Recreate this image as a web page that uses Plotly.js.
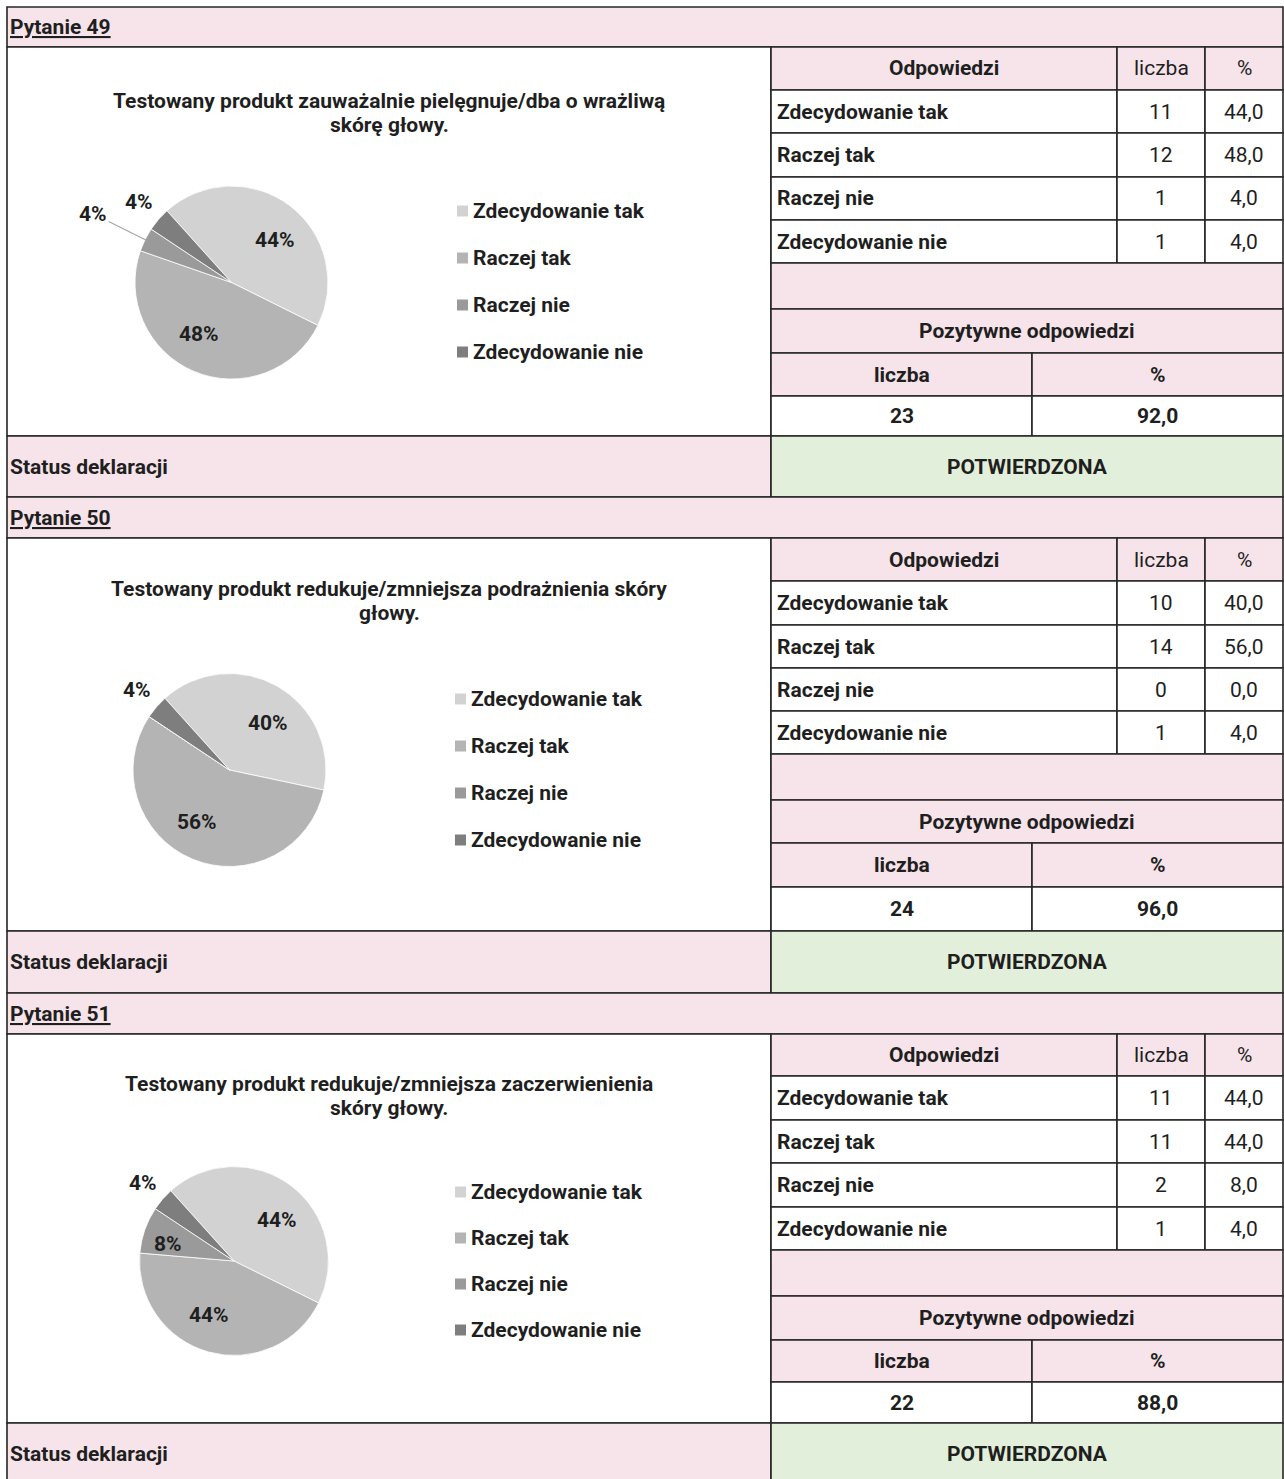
<!DOCTYPE html>
<html><head><meta charset="utf-8">
<script src="https://cdn.plot.ly/plotly-3.0.1.min.js"></script>
<style>html,body{margin:0;padding:0;background:#fff}#chart{width:1284px;height:1479px}</style>
</head><body><div id="chart"></div>
<script>
// ---------- DATA ----------
const categories = ['Zdecydowanie tak', 'Raczej tak', 'Raczej nie', 'Zdecydowanie nie'];
const questionNumbers = [49, 50, 51];
const questionTitles = [
  'Testowany produkt zauważalnie pielęgnuje/dba o wrażliwą<br>skórę głowy.',
  'Testowany produkt redukuje/zmniejsza podrażnienia skóry<br>głowy.',
  'Testowany produkt redukuje/zmniejsza zaczerwienienia<br>skóry głowy.'
];
const counts49 = [11, 12, 1, 1];
const counts50 = [10, 14, 0, 1];
const counts51 = [11, 11, 2, 1];
const statuses = ['POTWIERDZONA', 'POTWIERDZONA', 'POTWIERDZONA'];
const tableHeaders = ['Odpowiedzi', 'liczba', '%'];
const positiveHeader = 'Pozytywne odpowiedzi';
const positiveSubHeaders = ['liczba', '%'];
const statusLabel = 'Status deklaracji';
const questionPrefix = 'Pytanie';

// ---------- STYLE / LAYOUT ----------
const W = 1284, H = 1479;
const sliceColors = ['#D2D2D2', '#B4B4B4', '#9A9A9A', '#7E7E7E'];
const PINK = '#F6E4EA', GREEN = '#E2EFDA', LINE = '#262626', TXT = '#1F1F1F';
const FONT = 'Roboto, "Noto Sans", sans-serif';
const FS = 21;
const X = {left: 7, mid: 771, c1: 1117, c2: 1205, split: 1032, right: 1283};
const sectionLayout = [
  {rows: [7, 47, 90, 133, 177, 220, 263, 309, 353, 396, 436, 497], cx: 231.5, cy: 282.5, r: 96.5, titleY: 113, legTop: 211, legGap: 47, legX: 457},
  {rows: [497, 538, 581, 625, 668, 711, 754, 800, 843, 887, 931, 993], cx: 229.5, cy: 770, r: 96.5, titleY: 601, legTop: 699, legGap: 47, legX: 455},
  {rows: [993, 1034, 1076, 1120, 1163, 1207, 1250, 1296, 1340, 1382, 1423, 1485], cx: 234, cy: 1261, r: 94.5, titleY: 1096, legTop: 1192, legGap: 46, legX: 455}
];
const ROTATION = -42;
const TITLE_LINE_GAP = 24;
const allCounts = [counts49, counts50, counts51];

const px = x => x / W;
const py = y => 1 - y / H;
const fmt = v => v.toFixed(1).replace('.', ',');

const shapes = [], annotations = [], traces = [];

function rect(x0, x1, y0, y1, fill) {
  shapes.push({type: 'rect', xref: 'paper', yref: 'paper', layer: 'below',
    x0: px(x0), x1: px(x1), y0: py(y1), y1: py(y0),
    fillcolor: fill, line: {color: LINE, width: 1.6}});
}
function text(t, x, y, opts) {
  opts = opts || {};
  annotations.push({xref: 'paper', yref: 'paper', x: px(x), y: py(y), text: t, showarrow: false,
    xanchor: opts.anchor || 'center', yanchor: 'middle', align: opts.align || 'center', borderpad: 0,
    font: {family: FONT, size: opts.size || FS, color: TXT, weight: opts.bold === false ? 400 : 700}});
}

sectionLayout.forEach((L, s) => {
  const R = L.rows;
  const counts = allCounts[s];
  const total = counts.reduce((a, b) => a + b, 0);

  // header row
  rect(X.left, X.right, R[0], R[1], PINK);
  text('<u>' + questionPrefix + ' ' + questionNumbers[s] + '</u>', X.left + 2, (R[0] + R[1]) / 2, {anchor: 'left'});
  // left body
  rect(X.left, X.mid, R[1], R[10], '#FFFFFF');
  // table header
  rect(X.mid, X.c1, R[1], R[2], PINK);
  rect(X.c1, X.c2, R[1], R[2], PINK);
  rect(X.c2, X.right, R[1], R[2], PINK);
  const hy = (R[1] + R[2]) / 2;
  text(tableHeaders[0], (X.mid + X.c1) / 2, hy);
  text(tableHeaders[1], (X.c1 + X.c2) / 2, hy, {bold: false});
  text(tableHeaders[2], (X.c2 + X.right) / 2, hy, {bold: false});
  // data rows
  categories.forEach((c, i) => {
    const y0 = R[2 + i], y1 = R[3 + i], yc = (y0 + y1) / 2;
    rect(X.mid, X.c1, y0, y1, '#FFFFFF');
    rect(X.c1, X.c2, y0, y1, '#FFFFFF');
    rect(X.c2, X.right, y0, y1, '#FFFFFF');
    text(c, X.mid + 5, yc, {anchor: 'left'});
    text(String(counts[i]), (X.c1 + X.c2) / 2, yc, {bold: false});
    text(fmt(counts[i] / total * 100), (X.c2 + X.right) / 2, yc, {bold: false});
  });
  // empty row + positive block
  rect(X.mid, X.right, R[6], R[7], PINK);
  rect(X.mid, X.right, R[7], R[8], PINK);
  text(positiveHeader, (X.mid + X.right) / 2, (R[7] + R[8]) / 2);
  rect(X.mid, X.split, R[8], R[9], PINK);
  rect(X.split, X.right, R[8], R[9], PINK);
  text(positiveSubHeaders[0], (X.mid + X.split) / 2, (R[8] + R[9]) / 2);
  text(positiveSubHeaders[1], (X.split + X.right) / 2, (R[8] + R[9]) / 2);
  rect(X.mid, X.split, R[9], R[10], '#FFFFFF');
  rect(X.split, X.right, R[9], R[10], '#FFFFFF');
  const positive = counts[0] + counts[1];
  text(String(positive), (X.mid + X.split) / 2, (R[9] + R[10]) / 2);
  text(fmt(positive / total * 100), (X.split + X.right) / 2, (R[9] + R[10]) / 2);
  // status row
  rect(X.left, X.mid, R[10], R[11], PINK);
  rect(X.mid, X.right, R[10], R[11], GREEN);
  text(statusLabel, X.left + 2, (R[10] + R[11]) / 2, {anchor: 'left'});
  text(statuses[s], (X.mid + X.right) / 2, (R[10] + R[11]) / 2);

  // chart title (each line placed separately for tighter line spacing)
  const lines = questionTitles[s].split('<br>');
  lines.forEach((ln, k) => {
    text(ln, 389, L.titleY + (k - (lines.length - 1) / 2) * TITLE_LINE_GAP);
  });

  // legend
  categories.forEach((c, i) => {
    const yc = L.legTop + i * L.legGap;
    shapes.push({type: 'rect', xref: 'paper', yref: 'paper', layer: 'above',
      x0: px(L.legX), x1: px(L.legX + 11), y0: py(yc + 5.5), y1: py(yc - 5.5),
      fillcolor: sliceColors[i], line: {width: 0}});
    text(c, L.legX + 15, yc, {anchor: 'left'});
  });

  // pie
  traces.push({type: 'pie', values: counts, labels: categories, sort: false, direction: 'clockwise',
    rotation: ROTATION, marker: {colors: sliceColors, line: {color: '#FFFFFF', width: 0.8}},
    textinfo: 'none', hoverinfo: 'none', showlegend: false,
    domain: {x: [px(L.cx - L.r), px(L.cx + L.r)], y: [py(L.cy + L.r), py(L.cy - L.r)]}});

  // pie labels computed from data
  let cum = 0;
  const info = counts.map(v => { const mid = ROTATION + 360 * (cum + v / 2) / total; cum += v; return {v, mid}; });
  const placed = [];
  for (let i = counts.length - 1; i >= 0; i--) {
    const {v, mid} = info[i];
    if (v === 0) continue;
    const share = v / total;
    const label = Math.round(share * 100) + '%';
    if (share >= 0.06) {
      const big = share >= 0.2;
      const a = (mid + (big ? 9 : -5)) * Math.PI / 180;
      const d = L.r * (big ? 0.63 : 0.72);
      text(label, L.cx + d * Math.sin(a), L.cy - d * Math.cos(a));
    } else {
      const a = mid * Math.PI / 180;
      let d = L.r * 1.27;
      let lx = L.cx + d * Math.sin(a), ly = L.cy - d * Math.cos(a);
      const clash = placed.some(p => Math.hypot(p[0] - lx, p[1] - ly) < 40);
      if (clash) {
        d = L.r * 1.6;
        lx = L.cx + d * Math.sin(a); ly = L.cy - d * Math.cos(a);
        const ex = L.cx + L.r * 0.98 * Math.sin(a), ey = L.cy - L.r * 0.98 * Math.cos(a);
        annotations.push({xref: 'paper', yref: 'paper', x: px(ex), y: py(ey), ax: lx - ex, ay: ly - ey,
          text: label, showarrow: true, arrowhead: 0, arrowwidth: 1.2, arrowcolor: '#A6A6A6', standoff: 0,
          font: {family: FONT, size: FS, color: TXT, weight: 700}});
      } else {
        text(label, lx, ly);
      }
      placed.push([lx, ly]);
    }
  }
});

Plotly.newPlot('chart', traces, {
  width: W, height: H, margin: {l: 0, r: 0, t: 0, b: 0},
  paper_bgcolor: '#FFFFFF', plot_bgcolor: 'rgba(0,0,0,0)',
  shapes: shapes, annotations: annotations, showlegend: false
}, {staticPlot: true});
</script>
</body></html>
